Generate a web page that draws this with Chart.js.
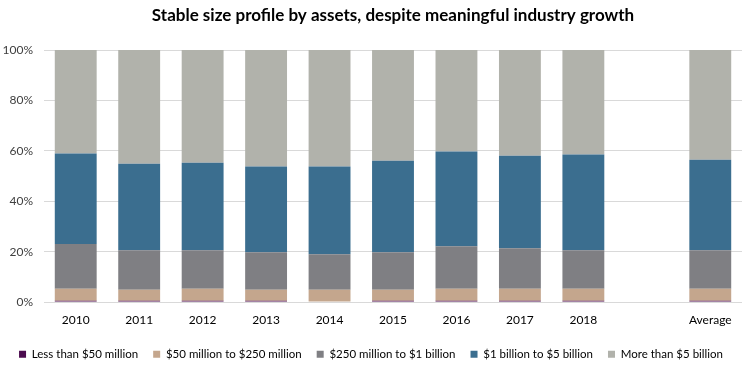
<!DOCTYPE html>
<html><head><meta charset="utf-8">
<script src="https://cdn.jsdelivr.net/npm/chart.js@4"></script>
<style>html,body{margin:0;padding:0;background:#fff}#wrap{width:746px;height:372px;position:relative}</style>
</head><body><div id="wrap"><canvas id="c" width="746" height="372"></canvas></div>
<script>
const titleText = 'Stable size profile by assets, despite meaningful industry growth';
const categories = ['2010','2011','2012','2013','2014','2015','2016','2017','2018','','Average'];
const seriesNames = ['Less than $50 million','$50 million to $250 million','$250 million to $1 billion','$1 billion to $5 billion','More than $5 billion'];
const lessThan50M   = [0.5, 0.5, 0.5, 0.5, 0.0, 0.5, 0.5, 0.5, 0.5, null, 0.5];
const from50to250M  = [4.8, 4.4, 4.8, 4.4, 4.9, 4.4, 4.8, 4.8, 4.8, null, 4.8];
const from250Mto1B  = [17.7, 15.7, 15.3, 14.9, 14.1, 14.9, 16.9, 16.1, 15.3, null, 15.3];
const from1Bto5B    = [35.9, 34.3, 34.7, 34.0, 34.8, 36.3, 37.5, 36.7, 37.9, null, 35.9];
const moreThan5B    = [41.1, 45.1, 44.7, 46.2, 46.2, 43.9, 40.3, 41.9, 41.5, null, 43.5];
const yTicks = [0, 20, 40, 60, 80, 100];
const colors = ['#4B0B4E', '#C4A68D', '#7F7F83', '#3B6E8F', '#B1B2AB'];
const seriesData = [lessThan50M, from50to250M, from250Mto1B, from1Bto5B, moreThan5B];

const titlePlugin = {
  id: 'customTitle',
  afterDraw(chart) {
    const ctx = chart.ctx, a = chart.chartArea;
    ctx.save();
    ctx.font = 'bold 17px Lato';
    ctx.fillStyle = '#000';
    ctx.textAlign = 'center';
    ctx.textBaseline = 'middle';
    ctx.fillText(titleText, (a.left + a.right) / 2, 16);
    ctx.restore();
  }
};

new Chart(document.getElementById('c'), {
  type: 'bar',
  data: {
    labels: categories,
    datasets: seriesNames.map((n, i) => ({
      label: n,
      data: seriesData[i],
      backgroundColor: colors[i],
      borderWidth: 0,
      barPercentage: 0.66,
      categoryPercentage: 1
    }))
  },
  options: {
    responsive: false,
    animation: false,
    layout: { padding: { top: 50, left: 0, right: 4, bottom: 2 } },
    plugins: {
      legend: {
        position: 'bottom',
        labels: { boxWidth: 7, boxHeight: 7, padding: 15, color: '#000', font: { family: 'Lato', size: 11.5 } }
      },
      tooltip: { enabled: false }
    },
    scales: {
      x: {
        stacked: true,
        grid: { display: false },
        border: { display: false },
        afterFit(axis) { axis.height += 3; },
        ticks: { color: '#000', font: { family: 'Lato', size: 12 }, padding: 3 }
      },
      y: {
        stacked: true,
        min: 0, max: 100,
        afterBuildTicks(axis) { axis.ticks = yTicks.map(v => ({ value: v })); },
        afterFit(axis) { axis.width = 44; },
        grid: { color: '#D9D9D9', drawTicks: false },
        border: { display: false },
        ticks: { color: '#404040', font: { family: 'Lato', size: 12 }, padding: 11, callback: v => v + '%' }
      }
    }
  },
  plugins: [titlePlugin]
});
</script></body></html>
